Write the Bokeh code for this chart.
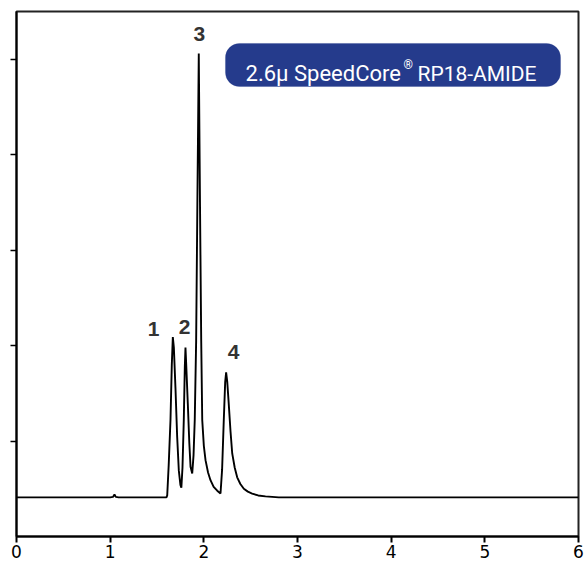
from bokeh.plotting import figure
from bokeh.models import Label, BoxAnnotation, FixedTicker, Range1d
from bokeh.embed import file_html
from bokeh.resources import INLINE

# chromatogram trace (time in min, signal in arbitrary units)
times = [0.00, 0.40, 0.80, 1.00, 1.03, 1.046, 1.06, 1.09, 1.40, 1.58, 1.601, 1.609, 1.625,
         1.644, 1.658, 1.669, 1.680, 1.697, 1.715, 1.733, 1.750, 1.760, 1.772, 1.786, 1.797,
         1.804, 1.812, 1.829, 1.845, 1.858, 1.876, 1.890, 1.903, 1.918, 1.932, 1.946, 1.958,
         1.972, 1.983, 2.000, 2.018, 2.045, 2.071, 2.105, 2.143, 2.178, 2.195, 2.213, 2.228,
         2.238, 2.250, 2.266, 2.285, 2.303, 2.330, 2.356, 2.390, 2.427, 2.470, 2.516, 2.580,
         2.658, 2.800, 3.20, 4.00, 5.00, 6.00]
signal = [0.41, 0.41, 0.41, 0.41, 0.415, 0.44, 0.415, 0.41, 0.41, 0.41, 0.41, 0.43, 0.75,
          1.22, 1.80, 2.09, 1.98, 1.56, 1.05, 0.69, 0.54, 0.51, 0.72, 1.22, 1.78,
          1.98, 1.80, 1.39, 0.98, 0.73, 0.66, 0.85, 1.22, 2.05, 3.60, 5.06, 3.60,
          2.05, 1.22, 0.95, 0.80, 0.67, 0.59, 0.52, 0.48, 0.45, 0.70, 1.22, 1.62,
          1.72, 1.62, 1.39, 1.10, 0.87, 0.72, 0.62, 0.55, 0.50, 0.47, 0.45, 0.43,
          0.42, 0.41, 0.41, 0.41, 0.41, 0.41]

peak_names = ["1", "2", "3", "4"]
peak_x = [1.463, 1.794, 1.953, 2.317]
peak_y = [2.17, 2.20, 5.26, 1.93]

x_ticks = [0, 1, 2, 3, 4, 5, 6]
y_ticks = [1, 2, 3, 4, 5]

p = figure(width=584, height=574, output_backend="svg", toolbar_location=None,
           x_range=Range1d(0, 6), y_range=Range1d(0, 5.5),
           min_border_left=16, min_border_right=6, min_border_top=11, min_border_bottom=38)
p.grid.visible = False
p.background_fill_color = "white"
p.border_fill_color = "white"
p.outline_line_color = "#222222"
p.outline_line_width = 2

p.line(times, signal, line_color="black", line_width=1.9)

for name, x, y in zip(peak_names, peak_x, peak_y):
    p.add_layout(Label(x=x, y=y, text=name, text_align="center", text_baseline="middle",
                       text_font="Liberation Sans", text_font_style="bold",
                       text_font_size="21px", text_color="#333333"))

# badge
p.add_layout(BoxAnnotation(left=2.231, right=5.808, bottom=4.714, top=5.165,
                           fill_color="#253b8c", fill_alpha=1, line_color="#253b8c",
                           border_radius=14))
p.add_layout(Label(x=2.445, y=4.848, text="2.6μ SpeedCore", text_align="left",
                   text_baseline="alphabetic", text_font="Roboto",
                   text_font_size="22px", text_color="white"))
p.add_layout(Label(x=4.131, y=4.94, text="®", text_align="left",
                   text_baseline="alphabetic", text_font="Roboto",
                   text_font_size="12px", text_color="white"))
p.add_layout(Label(x=4.281, y=4.848, text="RP18-AMIDE", text_align="left",
                   text_baseline="alphabetic", text_font="Roboto",
                   text_font_size="21px", text_color="white"))

# x axis
xa = p.xaxis[0]
xa.ticker = FixedTicker(ticks=x_ticks)
xa.minor_tick_line_color = None
xa.major_tick_in = 0
xa.major_tick_out = 6
xa.major_tick_line_width = 2
xa.axis_line_width = 2
xa.axis_line_color = "black"
xa.major_tick_line_color = "black"
xa.major_label_text_font = "DejaVu Sans"
xa.major_label_text_font_size = "17px"
xa.major_label_text_color = "black"
xa.major_label_standoff = 2

p.add_layout(Label(x=3.0, y=-0.395, text="Time", text_align="center", text_baseline="bottom",
                   text_font="DejaVu Sans", text_font_size="13px", text_color="black"))

# y axis
ya = p.yaxis[0]
ya.ticker = FixedTicker(ticks=y_ticks)
ya.minor_tick_line_color = None
ya.major_tick_in = 0
ya.major_tick_out = 6
ya.major_tick_line_width = 1.5
ya.axis_line_width = 2
ya.axis_line_color = "black"
ya.major_tick_line_color = "black"
ya.major_label_overrides = {t: "" for t in y_ticks}
ya.major_label_standoff = 0
ya.major_label_text_font_size = "1px"

open("out.html", "w").write(file_html(p, INLINE))
